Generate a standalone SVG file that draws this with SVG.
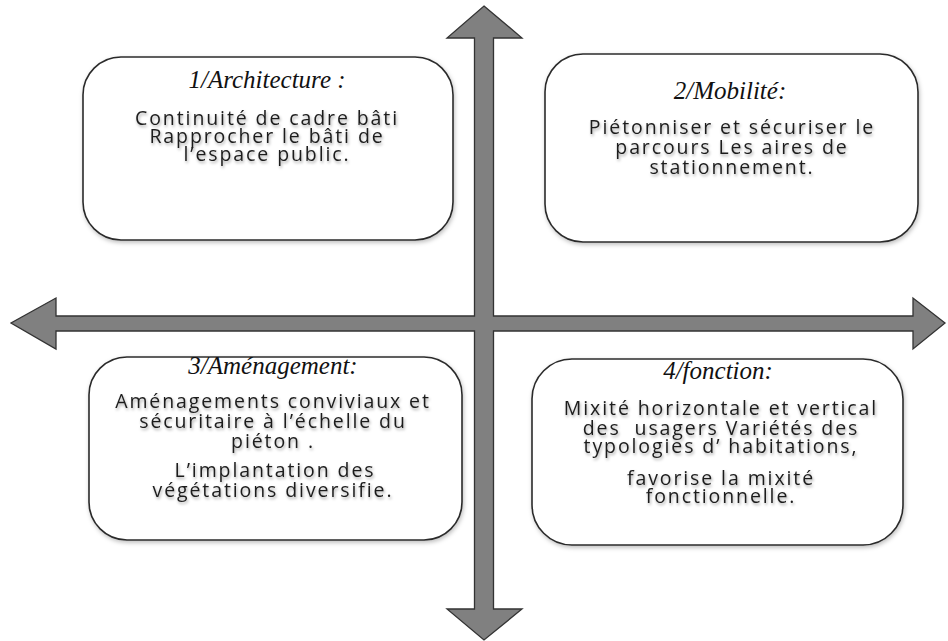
<svg xmlns="http://www.w3.org/2000/svg" width="948" height="641" viewBox="0 0 948 641">
<defs>
<filter id="ts" x="-10%" y="-30%" width="120%" height="160%">
<feDropShadow dx="1" dy="2" stdDeviation="1.4" flood-color="#000" flood-opacity="0.35"/>
</filter>
<filter id="bs" x="-5%" y="-5%" width="110%" height="115%">
<feDropShadow dx="1" dy="2" stdDeviation="2" flood-color="#000" flood-opacity="0.25"/>
</filter>
</defs>
<style>
.box{fill:#fff;stroke:#2b2b2b;stroke-width:1.6;filter:url(#bs)}
.title{font-family:"Liberation Serif","DejaVu Serif",serif;font-style:italic;font-size:25px;fill:#111;text-anchor:middle}
.body{font-family:"Open Sans","Liberation Sans",sans-serif;font-size:19.5px;letter-spacing:1.9px;fill:#1e1e1e;text-anchor:middle;filter:url(#ts)}
.axis{fill:#808080;stroke:#333;stroke-width:1.3;stroke-linejoin:miter}
</style>
<rect width="948" height="641" fill="#fff"/>
<g id="connectors">
<polygon class="axis" points="484,6 522,38 493.5,38 493.5,316 913,316 913,298 945,323 913,349 913,331 493.5,331 493.5,609 522,609 484,640 447,609 474.5,609 474.5,331 56,331 56,349 11,323 56,298 56,316 474.5,316 474.5,38 447,38"/>
</g>
<g id="node1">
<rect class="box" x="83" y="57" width="370" height="183" rx="38"/>
<text class="title" x="267" y="88">1/Architecture :</text>
<text class="body"><tspan x="267" y="125">Continuité de cadre bâti</tspan><tspan x="267" y="143">Rapprocher le bâti de</tspan><tspan x="267" y="161">l’espace public.</tspan></text>
</g>
<g id="node2">
<rect class="box" x="545" y="54" width="373" height="188" rx="38"/>
<text class="title" x="730" y="99">2/Mobilité:</text>
<text class="body"><tspan x="732" y="134">Piétonniser et sécuriser le</tspan><tspan x="732" y="154">parcours Les aires de</tspan><tspan x="732" y="174">stationnement.</tspan></text>
</g>
<g id="node3">
<rect class="box" x="89" y="357" width="373" height="183" rx="38"/>
<text class="title" x="273" y="374">3/Aménagement:</text>
<text class="body"><tspan x="273" y="408">Aménagements conviviaux et</tspan><tspan x="273" y="428">sécuritaire à l’échelle du</tspan><tspan x="273" y="448">piéton .</tspan></text>
<text class="body"><tspan x="275" y="477">L’implantation des</tspan><tspan x="273" y="497">végétations diversifie.</tspan></text>
</g>
<g id="node4">
<rect class="box" x="532" y="359" width="371" height="186" rx="40"/>
<text class="title" x="718" y="379">4/fonction:</text>
<text class="body" xml:space="preserve"><tspan x="721" y="415">Mixité horizontale et vertical</tspan><tspan x="721" y="435">des  usagers Variétés des</tspan><tspan x="721" y="453">typologies d’ habitations,</tspan></text>
<text class="body"><tspan x="721" y="485">favorise la mixité</tspan><tspan x="721" y="503">fonctionnelle.</tspan></text>
</g>
</svg>
